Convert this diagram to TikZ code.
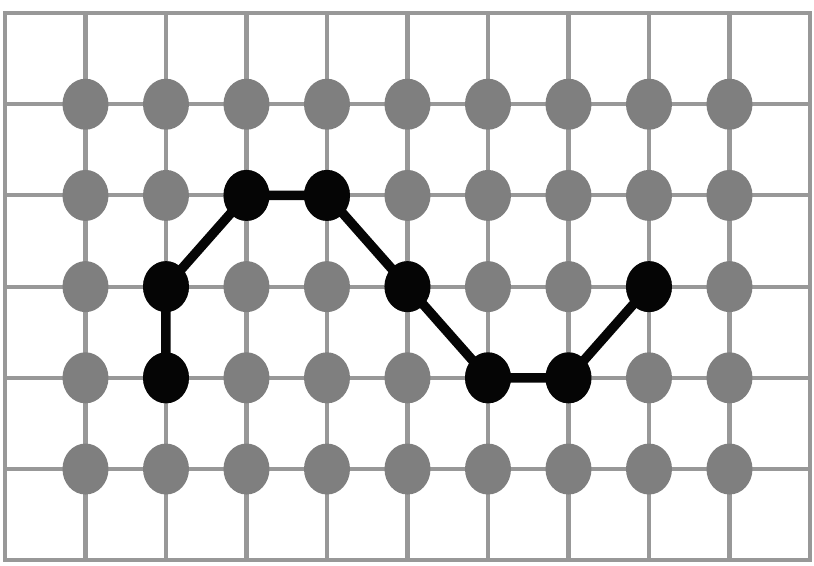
\documentclass[tikz,border=0pt]{standalone}
\usepackage{tikz}
\usetikzlibrary{shapes.geometric}
\definecolor{gridgray}{HTML}{989898}
\definecolor{dotgray}{HTML}{7F7F7F}
\definecolor{walkblack}{HTML}{050505}
\tikzset{
  gridline/.style={draw=gridgray,line width=2.3pt},
  dot/.style={ellipse,fill=dotgray,inner sep=0pt,minimum width=9.2mm,minimum height=10.2mm},
  walkdot/.style={dot,fill=walkblack},
  walkline/.style={draw=walkblack,line width=5.4pt,line join=round},
}

\begin{document}
\begin{tikzpicture}[x=1.61cm,y=1.824cm]
  \path[use as bounding box] (-0.062,-0.055) rectangle (10.05,6.143);
  % lattice
  \draw[gridline] (0,0) rectangle (10,6);
  \foreach \i in {1,...,9} \draw[gridline] (\i,0) -- (\i,6);
  \foreach \j in {1,...,5} \draw[gridline] (0,\j) -- (10,\j);
  % sites
  \foreach \c in {1,...,9}
    \foreach \r in {1,...,5}
      \node[dot] (d-\c-\r) at (\c,{6-\r}) {};
  % walk
  \foreach \n/\c/\r in {1/2/4,2/2/3,3/3/2,4/4/2,5/5/3,6/6/4,7/7/4,8/8/3}
    \node[walkdot] (w\n) at (\c,{6-\r}) {};
  \draw[walkline] (w1.center) -- (w2.center) -- (w3.center) -- (w4.center)
    -- (w5.center) -- (w6.center) -- (w7.center) -- (w8.center);
\end{tikzpicture}
\end{document}
